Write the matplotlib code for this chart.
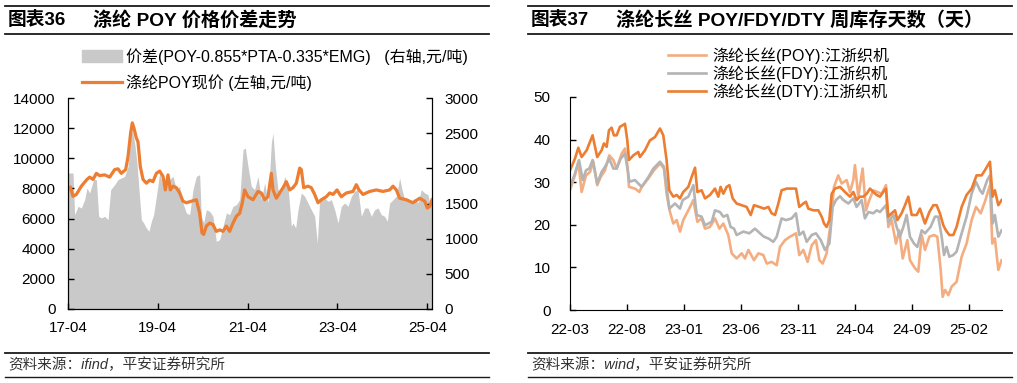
import matplotlib
matplotlib.use("Agg")
import matplotlib.pyplot as plt
from matplotlib.lines import Line2D
from matplotlib.patches import Patch

plt.rcParams['font.family'] = ['Liberation Sans', 'Noto Sans CJK SC']
plt.rcParams['axes.unicode_minus'] = False

# ---- chart 36: POY price (left axis) and spread (right axis), x in decimal years
poy_t = [2017.250, 2017.302, 2017.361, 2017.436, 2017.547, 2017.673, 2017.732, 2017.807,
         2017.881, 2017.955, 2018.066, 2018.178, 2018.289, 2018.363, 2018.437, 2018.534,
         2018.586, 2018.645, 2018.682, 2018.719, 2018.771, 2018.808, 2018.860, 2018.920,
         2018.994, 2019.068, 2019.142, 2019.217, 2019.291, 2019.365, 2019.417, 2019.476,
         2019.528, 2019.588, 2019.662, 2019.736, 2019.810, 2019.885, 2019.996, 2020.107,
         2020.181, 2020.233, 2020.270, 2020.330, 2020.404, 2020.478, 2020.552, 2020.627,
         2020.701, 2020.775, 2020.849, 2020.923, 2020.998, 2021.072, 2021.131, 2021.183,
         2021.257, 2021.369, 2021.480, 2021.554, 2021.628, 2021.703, 2021.777, 2021.814,
         2021.888, 2021.962, 2022.037, 2022.111, 2022.185, 2022.259, 2022.334, 2022.408,
         2022.445, 2022.497, 2022.593, 2022.667, 2022.742, 2022.816, 2022.890, 2023.001,
         2023.076, 2023.150, 2023.239, 2023.335, 2023.447, 2023.595, 2023.669, 2023.729,
         2023.818, 2023.966, 2024.115, 2024.263, 2024.411, 2024.486, 2024.560, 2024.634,
         2024.783, 2024.931, 2025.079, 2025.191, 2025.250, 2025.302, 2025.354]
poy_price = [7900, 8100, 7480, 7600, 8150, 8600, 8750, 8600, 9000, 8850, 8900, 8750,
             9250, 9300, 9000, 9250, 10100, 11700, 12350, 12000, 11350, 11100, 9450, 8600,
             8350, 8550, 8450, 9000, 9150, 8800, 7900, 8900, 7900, 8150, 8050, 7700,
             7150, 7050, 7150, 7250, 6350, 5050, 4950, 5500, 5700, 5600, 5150, 5250,
             5150, 5500, 5150, 5700, 6150, 6350, 7050, 7900, 7450, 7250, 7800, 7700,
             7250, 7450, 9000, 7900, 7350, 7700, 8050, 8450, 7900, 8050, 8350, 9350,
             9250, 8050, 8150, 8050, 7600, 7050, 7250, 7450, 7700, 7600, 7900, 7450,
             7700, 7800, 8250, 7900, 7600, 7800, 7900, 7800, 7900, 8150, 7900, 7350,
             7250, 7050, 7350, 7150, 6700, 6800, 7250]

spread_t = [2017.250, 2017.361, 2017.398, 2017.473, 2017.547, 2017.621, 2017.673, 2017.732,
            2017.821, 2017.881, 2017.933, 2017.992, 2018.066, 2018.141, 2018.200, 2018.289,
            2018.363, 2018.437, 2018.512, 2018.586, 2018.645, 2018.682, 2018.734, 2018.786,
            2018.831, 2018.883, 2018.935, 2018.994, 2019.053, 2019.105, 2019.157, 2019.217,
            2019.291, 2019.365, 2019.439, 2019.513, 2019.588, 2019.662, 2019.736, 2019.810,
            2019.885, 2019.959, 2020.033, 2020.107, 2020.181, 2020.218, 2020.270, 2020.330,
            2020.404, 2020.478, 2020.552, 2020.627, 2020.701, 2020.775, 2020.849, 2020.923,
            2020.998, 2021.072, 2021.146, 2021.198, 2021.257, 2021.332, 2021.406, 2021.480,
            2021.554, 2021.628, 2021.703, 2021.777, 2021.814, 2021.866, 2021.925, 2021.999,
            2022.074, 2022.148, 2022.222, 2022.259, 2022.319, 2022.371, 2022.445, 2022.519,
            2022.593, 2022.667, 2022.742, 2022.801, 2022.853, 2022.927, 2023.038, 2023.113,
            2023.187, 2023.261, 2023.335, 2023.410, 2023.484, 2023.558, 2023.632, 2023.706,
            2023.781, 2023.855, 2023.929, 2024.003, 2024.077, 2024.152, 2024.226, 2024.300,
            2024.359, 2024.411, 2024.486, 2024.560, 2024.634, 2024.686, 2024.745, 2024.819,
            2024.894, 2024.968, 2025.042, 2025.116, 2025.191, 2025.265, 2025.317, 2025.354]
spread = [1934, 1934, 1341, 1460, 1436, 1555, 1720, 1650, 1840, 1840, 1318, 1294,
          1318, 1270, 1697, 1768, 1840, 1863, 1886, 2028, 2431, 2550, 2360, 2076,
          1697, 1270, 1223, 1152, 1104, 1246, 1341, 1602, 1934, 1744, 1863, 1840,
          1886, 1697, 1744, 1507, 1365, 1341, 1697, 1886, 1910, 1318, 1223, 1412,
          1389, 1318, 962, 986, 1175, 1365, 1341, 1460, 1483, 1555, 2265, 2289,
          2028, 1744, 1697, 1886, 1555, 1792, 1507, 2360, 2502, 2028, 1697, 1650,
          1886, 1744, 1175, 1223, 1152, 1412, 1650, 1602, 1507, 1412, 1318, 938,
          1555, 1602, 1531, 1555, 1412, 1223, 1460, 1507, 1460, 1602, 1673, 1697,
          1318, 1436, 1436, 1318, 1412, 1436, 1341, 1318, 1246, 1507, 1555, 1602,
          1863, 1697, 1555, 1555, 1531, 1578, 1507, 1697, 1650, 1626, 1460, 1602]

left_ticks = [2017.25, 2019.25, 2021.25, 2023.25, 2025.25]
left_ticklabels = ["17-04", "19-04", "21-04", "23-04", "25-04"]

# ---- chart 37: weekly inventory days, x in decimal years
dty_t = [2022.167, 2022.203, 2022.228, 2022.252, 2022.289, 2022.332, 2022.366, 2022.398,
         2022.415, 2022.435, 2022.452, 2022.471, 2022.488, 2022.508, 2022.532, 2022.569,
         2022.586, 2022.598, 2022.630, 2022.666, 2022.678, 2022.715, 2022.751, 2022.788,
         2022.825, 2022.849, 2022.873, 2022.893, 2022.922, 2022.947, 2022.971, 2022.995,
         2023.032, 2023.056, 2023.081, 2023.098, 2023.129, 2023.154, 2023.190, 2023.227,
         2023.251, 2023.268, 2023.288, 2023.312, 2023.332, 2023.356, 2023.385, 2023.422,
         2023.458, 2023.488, 2023.512, 2023.551, 2023.585, 2023.617, 2023.641, 2023.666,
         2023.690, 2023.714, 2023.751, 2023.794, 2023.819, 2023.843, 2023.873, 2023.892,
         2023.909, 2023.946, 2023.982, 2024.007, 2024.024, 2024.043, 2024.063, 2024.080,
         2024.104, 2024.141, 2024.177, 2024.214, 2024.238, 2024.262, 2024.287, 2024.311,
         2024.336, 2024.360, 2024.384, 2024.409, 2024.433, 2024.457, 2024.477, 2024.494,
         2024.518, 2024.543, 2024.560, 2024.591, 2024.616, 2024.640, 2024.665, 2024.701,
         2024.725, 2024.762, 2024.794, 2024.823, 2024.847, 2024.871, 2024.896, 2024.915,
         2024.940, 2024.969, 2024.993, 2025.030, 2025.066, 2025.103, 2025.139, 2025.176,
         2025.200, 2025.237, 2025.256, 2025.273, 2025.298, 2025.322]
dty = [32.8, 35.5, 38.1, 35.9, 37.5, 41.0, 35.9, 37.5, 39.1, 38.3, 42.2, 42.8,
       41.0, 41.0, 43.0, 43.7, 39.8, 35.2, 36.3, 37.1, 35.9, 37.5, 39.8, 40.6,
       42.6, 41.0, 35.2, 28.1, 26.6, 27.0, 26.2, 27.7, 28.9, 31.2, 33.4, 27.7,
       28.1, 26.2, 27.0, 28.5, 26.6, 28.9, 27.3, 28.9, 29.3, 26.2, 25.0, 24.6,
       24.2, 22.3, 24.6, 24.2, 23.8, 24.2, 22.7, 22.3, 25.0, 28.1, 28.5, 28.5,
       28.5, 24.2, 25.0, 25.4, 23.8, 23.4, 23.4, 21.9, 20.3, 19.5, 21.1, 27.3,
       28.5, 28.9, 27.7, 26.6, 27.7, 25.8, 26.6, 26.6, 27.3, 28.5, 27.7, 27.0,
       26.6, 27.7, 28.5, 21.9, 22.7, 23.4, 21.1, 22.7, 24.6, 26.6, 22.3, 22.3,
       23.8, 20.3, 23.0, 24.6, 24.6, 22.7, 19.9, 18.7, 17.6, 17.6, 19.5, 24.2,
       27.0, 28.5, 31.6, 31.6, 32.8, 34.8, 26.6, 28.1, 24.6, 25.8]

fdy_t = [2022.167, 2022.203, 2022.233, 2022.260, 2022.284, 2022.308, 2022.332, 2022.366,
         2022.398, 2022.423, 2022.454, 2022.484, 2022.508, 2022.537, 2022.569, 2022.589,
         2022.601, 2022.642, 2022.666, 2022.691, 2022.740, 2022.776, 2022.825, 2022.854,
         2022.873, 2022.893, 2022.935, 2022.971, 2022.991, 2023.032, 2023.069, 2023.093,
         2023.129, 2023.154, 2023.203, 2023.227, 2023.263, 2023.288, 2023.317, 2023.341,
         2023.366, 2023.385, 2023.434, 2023.478, 2023.519, 2023.556, 2023.585, 2023.617,
         2023.653, 2023.678, 2023.714, 2023.746, 2023.787, 2023.819, 2023.843, 2023.873,
         2023.897, 2023.934, 2023.965, 2024.000, 2024.031, 2024.063, 2024.087, 2024.111,
         2024.141, 2024.165, 2024.202, 2024.238, 2024.262, 2024.299, 2024.323, 2024.348,
         2024.384, 2024.409, 2024.433, 2024.477, 2024.494, 2024.531, 2024.555, 2024.579,
         2024.604, 2024.628, 2024.652, 2024.682, 2024.706, 2024.738, 2024.762, 2024.803,
         2024.835, 2024.859, 2024.884, 2024.901, 2024.920, 2024.940, 2024.969, 2024.993,
         2025.030, 2025.066, 2025.103, 2025.135, 2025.164, 2025.183, 2025.217, 2025.237,
         2025.256, 2025.273, 2025.298, 2025.322]
fdy = [28.9, 32.0, 35.2, 30.5, 32.8, 33.2, 35.2, 29.7, 32.4, 33.6, 35.5, 33.2,
       33.2, 35.5, 36.7, 32.8, 30.1, 30.5, 29.7, 28.9, 31.2, 33.2, 34.8, 33.6,
       28.9, 23.8, 25.0, 23.8, 25.8, 26.6, 29.3, 22.3, 21.9, 19.9, 20.7, 23.4,
       23.0, 21.9, 22.3, 19.5, 19.1, 17.6, 18.4, 18.0, 19.1, 18.0, 17.2, 16.8,
       16.0, 17.2, 21.5, 21.1, 21.5, 22.7, 17.6, 18.4, 16.0, 17.6, 18.0, 16.4,
       14.1, 15.6, 24.2, 25.8, 26.7, 25.8, 25.0, 26.2, 24.2, 25.8, 21.5, 23.0,
       22.7, 23.4, 23.0, 24.6, 20.7, 22.3, 19.5, 17.2, 19.5, 22.3, 17.2, 15.6,
       14.8, 18.7, 18.0, 19.5, 21.9, 21.9, 17.2, 12.9, 14.8, 12.5, 12.9, 13.7,
       18.0, 21.9, 27.3, 30.1, 28.1, 27.3, 30.5, 31.6, 20.3, 22.3, 17.2, 18.7]

poy_inv_t = [2022.167, 2022.203, 2022.228, 2022.252, 2022.284, 2022.313, 2022.338, 2022.366,
             2022.391, 2022.423, 2022.454, 2022.484, 2022.508, 2022.545, 2022.569, 2022.589,
             2022.598, 2022.642, 2022.674, 2022.691, 2022.740, 2022.781, 2022.825, 2022.854,
             2022.873, 2022.898, 2022.922, 2022.947, 2022.971, 2022.995, 2023.032, 2023.069,
             2023.098, 2023.129, 2023.154, 2023.190, 2023.227, 2023.259, 2023.288, 2023.324,
             2023.349, 2023.385, 2023.422, 2023.446, 2023.471, 2023.512, 2023.544, 2023.580,
             2023.605, 2023.641, 2023.678, 2023.702, 2023.739, 2023.775, 2023.819, 2023.843,
             2023.873, 2023.904, 2023.934, 2023.965, 2023.990, 2024.014, 2024.043, 2024.072,
             2024.097, 2024.128, 2024.153, 2024.189, 2024.214, 2024.238, 2024.250, 2024.275,
             2024.306, 2024.331, 2024.355, 2024.384, 2024.413, 2024.445, 2024.477, 2024.494,
             2024.518, 2024.550, 2024.574, 2024.599, 2024.633, 2024.652, 2024.689, 2024.713,
             2024.738, 2024.762, 2024.794, 2024.828, 2024.852, 2024.877, 2024.891, 2024.908,
             2024.933, 2024.957, 2024.993, 2025.030, 2025.066, 2025.103, 2025.135, 2025.169,
             2025.200, 2025.237, 2025.254, 2025.273, 2025.298, 2025.322]
poy_inv = [28.1, 31.6, 34.8, 27.7, 31.6, 32.4, 34.8, 29.3, 31.2, 32.8, 36.3, 35.2,
           33.2, 36.7, 37.9, 33.2, 28.9, 28.5, 27.7, 28.9, 30.9, 32.8, 34.4, 33.2,
           27.3, 23.0, 20.3, 21.1, 18.4, 21.1, 23.4, 25.8, 20.7, 21.5, 19.1, 19.5,
           21.5, 19.1, 20.3, 17.6, 13.3, 12.1, 13.3, 12.1, 14.1, 11.7, 13.3, 12.9,
           10.9, 11.3, 10.5, 14.8, 16.4, 17.2, 18.0, 12.9, 14.1, 11.3, 15.2, 16.4,
           11.7, 10.9, 13.3, 20.3, 28.9, 31.6, 29.7, 30.5, 27.7, 30.5, 34.0, 26.6,
           33.2, 23.4, 25.8, 28.1, 27.7, 27.3, 29.3, 19.5, 21.1, 15.6, 18.7, 12.1,
           16.4, 11.7, 9.8, 9.0, 17.6, 14.1, 17.2, 17.6, 17.2, 9.4, 3.1, 4.7,
           3.5, 5.5, 6.6, 12.5, 15.6, 21.1, 24.2, 22.7, 25.4, 29.3, 15.6, 16.8,
           9.4, 11.7]

right_ticks = [2022.167, 2022.583, 2023.0, 2023.417, 2023.833, 2024.25, 2024.667, 2025.083]
right_ticklabels = ["22-03", "22-08", "23-01", "23-06", "23-11", "24-04", "24-09", "25-02"]

ORANGE = "#ED7D31"
LIGHT_ORANGE = "#F4AD80"
GRAY_LINE = "#B4B4B4"
GRAY_FILL = "#C9C9C9"

W, H = 1017, 383
fig = plt.figure(figsize=(W / 100, H / 100), dpi=100)


def fx(px):
    return px / W


def fy(py):
    return 1 - py / H


def hline(x0, x1, y, lw=1.3):
    fig.add_artist(Line2D([fx(x0), fx(x1)], [fy(y), fy(y)], color="#1a1a1a", lw=lw))


def frame(x0, x1, num, title, src):
    hline(x0, x1, 6)
    hline(x0, x1, 34)
    hline(x0, x1, 353)
    hline(x0, x1, 377, lw=1.0)
    fig.text(fx(x0 + 3), fy(20), num, fontsize=13.5, fontweight="bold", va="center")
    fig.text(fx(x0 + 88), fy(20), title, fontsize=13.8, fontweight="bold", va="center")
    fig.text(fx(x0 + 3), fy(365), src, fontsize=10.5, style="italic", color="#333333",
             va="center")


frame(5, 489, "图表36", "涤纶 POY 价格价差走势", "资料来源：ifind，平安证券研究所")
frame(528, 1012, "图表37", "涤纶长丝 POY/FDY/DTY 周库存天数（天）", "资料来源：wind，平安证券研究所")

# ---- left chart
ax1 = fig.add_axes([fx(68), fy(309), fx(432 - 68), (309 - 98) / H])
ax1r = ax1.twinx()
ax1r.fill_between(spread_t, 0, spread, color=GRAY_FILL, lw=0)
ax1.plot(poy_t, poy_price, color=ORANGE, lw=2.3)
ax1.set_zorder(ax1r.get_zorder() + 1)
ax1.patch.set_visible(False)

ax1.set_xlim(2017.25, 2025.354)
ax1.set_ylim(0, 14000)
ax1.set_yticks(range(0, 14001, 2000))
ax1r.set_ylim(0, 3000)
ax1r.set_yticks(range(0, 3001, 500))
ax1.set_xticks(left_ticks)
ax1.set_xticklabels(left_ticklabels)
for a in (ax1, ax1r):
    a.spines["top"].set_visible(False)
    a.tick_params(direction="in", length=4, width=1, labelsize=11, pad=9)
ax1r.spines["right"].set_visible(True)

fig.legend([Patch(color=GRAY_FILL), Line2D([], [], color=ORANGE, lw=2.3)],
           ["价差(POY-0.855*PTA-0.335*EMG)   (右轴,元/吨)", "涤纶POY现价 (左轴,元/吨)"],
           loc="upper left", bbox_to_anchor=(fx(82), fy(48)), frameon=False,
           fontsize=11.5, handlelength=2.5, handleheight=0.8, handletextpad=0.25,
           labelspacing=0.6, borderpad=0, borderaxespad=0)

# ---- right chart
ax2 = fig.add_axes([fx(570), fy(310), fx(1002 - 570), (310 - 97) / H])
ax2.plot(poy_inv_t, poy_inv, color=LIGHT_ORANGE, lw=1.9, label="涤纶长丝(POY):江浙织机")
ax2.plot(fdy_t, fdy, color=GRAY_LINE, lw=1.9, label="涤纶长丝(FDY):江浙织机")
ax2.plot(dty_t, dty, color=ORANGE, lw=1.9, label="涤纶长丝(DTY):江浙织机")
ax2.set_xlim(2022.167, 2025.325)
ax2.set_ylim(0, 50)
ax2.set_yticks(range(0, 51, 10))
ax2.set_xticks(right_ticks)
ax2.set_xticklabels(right_ticklabels)
ax2.spines["top"].set_visible(False)
ax2.spines["right"].set_visible(False)
ax2.tick_params(direction="in", length=4, width=1, labelsize=11, pad=9)
ax2.tick_params(axis="y", pad=14)

ax2.legend(loc="upper left", bbox_to_anchor=(fx(668), fy(47)), bbox_transform=fig.transFigure,
           frameon=False, fontsize=11.5, handlelength=2.4, handletextpad=0.4,
           labelspacing=0.1, borderpad=0, borderaxespad=0)

fig.savefig("out.png", dpi=100)
